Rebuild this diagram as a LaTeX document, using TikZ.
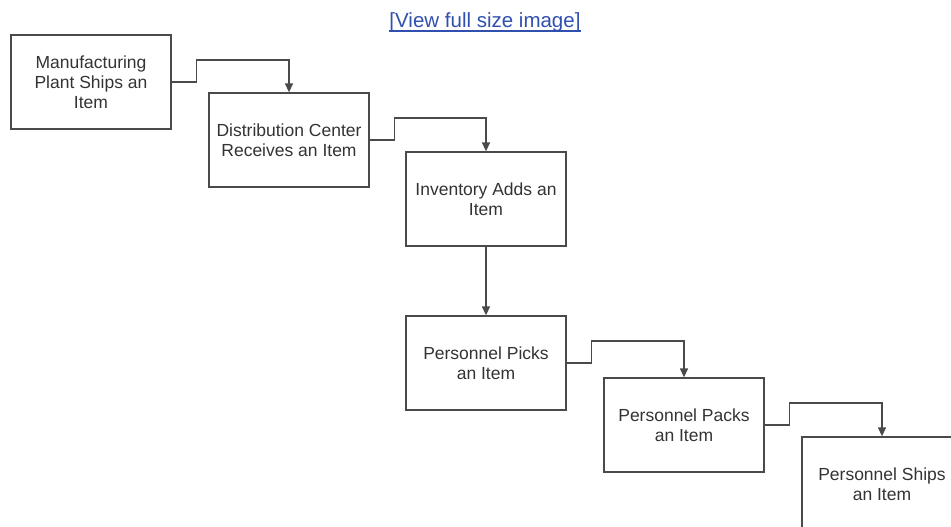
\documentclass[tikz,border=0pt]{standalone}
\usepackage{fontspec}
\setmainfont{Liberation Sans}
\usepackage{xcolor}
\usetikzlibrary{arrows.meta}

\definecolor{boxline}{HTML}{4A4A4A}
\definecolor{linkblue}{HTML}{3050B0}

\begin{document}
\begin{tikzpicture}[x=1pt,y=-1pt,
	itembox/.style={draw=boxline, line width=1.3pt,
		minimum width=160pt, minimum height=94pt,
		inner sep=0pt, align=center, text=black!80,
		font=\fontsize{17.5}{20}\selectfont},
	flow/.style={draw=boxline, line width=1.3pt,
		-{Triangle[length=9pt,width=8pt]}}]
					%\draw[help lines] (0,0) grid[step=20] (951,527);
					\clip (0,0) rectangle (951,527);
					
					\node[anchor=base, inner sep=0pt, text=linkblue,
						font=\fontsize{20.5}{22}\selectfont] (link) at (485,28) {[View full size image]};
					\draw[linkblue, line width=1.2pt] ([yshift=-3pt]link.base west) -- ([yshift=-3pt]link.base east);
					
					\node[itembox] (mfg) at (91,82) {Manufacturing\\Plant Ships an\\Item};
					\node[itembox] (dist) at ([shift={(198,58)}]mfg) {Distribution Center\\Receives an Item};
					\node[itembox] (inv) at ([shift={(197,59)}]dist) {Inventory Adds an\\Item};
					\node[itembox] (pick) at ([shift={(0,164)}]inv) {Personnel Picks\\an Item};
					\node[itembox] (pack) at ([shift={(198,62)}]pick) {Personnel Packs\\an Item};
					\node[itembox] (ship) at ([shift={(198,59)}]pack) {Personnel Ships\\an Item};
					
					\foreach \a/\b in {mfg/dist, dist/inv, pick/pack, pack/ship}{
						\draw[flow] (\a.east) -- ++(25,0) -- ++(0,-22) -| (\b.north);}
					\draw[flow] (inv) -- (pick);
				\end{tikzpicture}
\end{document}
